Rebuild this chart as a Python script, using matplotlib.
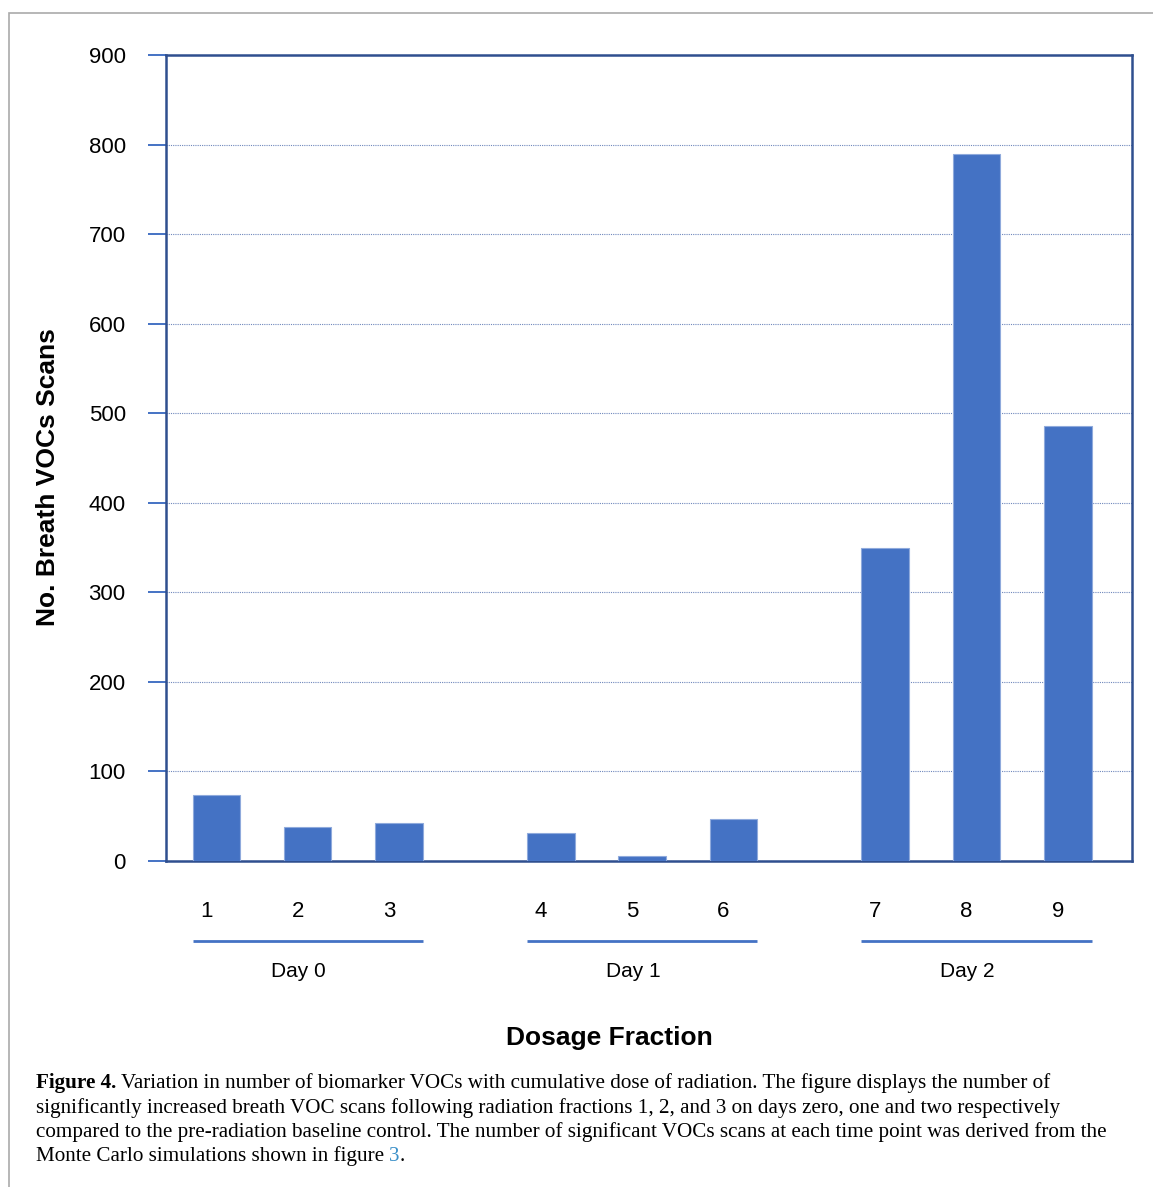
import matplotlib.pyplot as plt
from matplotlib.patches import Rectangle
import matplotlib.transforms as mtransforms

# Data
fractions = ["1", "2", "3", "4", "5", "6", "7", "8", "9"]
days = ["Day 0", "Day 1", "Day 2"]
scans = [74, 38, 42, 31, 6, 47, 350, 790, 486]
y_ticks = [0, 100, 200, 300, 400, 500, 600, 700, 800, 900]

caption_lines = [
    "Variation in number of biomarker VOCs with cumulative dose of radiation. The figure displays the number of",
    "significantly increased breath VOC scans following radiation fractions 1, 2, and 3 on days zero, one and two respectively",
    "compared to the pre-radiation baseline control. The number of significant VOCs scans at each time point was derived from the",
    "Monte Carlo simulations shown in figure ",
]

bar_color = "#4472C4"
spine_color = "#2F4F8F"
sans = ["Liberation Sans", "DejaVu Sans"]
serif = ["Liberation Serif", "DejaVu Serif"]

# bar positions: 3 per day, with a wider gap between days
gap = 0.66
xpos = [i + (i // 3) * gap for i in range(len(scans))]

fig = plt.figure(figsize=(11.53, 11.87), dpi=100)
ax = fig.add_axes([166 / 1153, 1 - 861 / 1187, 966 / 1153, 806 / 1187])

ax.bar(xpos, scans, width=0.52, color=bar_color, edgecolor="#8FAADC", linewidth=0.8, zorder=3)

ax.set_xlim(-0.55, xpos[-1] + 0.7)
ax.set_ylim(0, 900)

ax.set_yticks(y_ticks)
ax.set_yticklabels([str(t) for t in y_ticks], fontsize=16, family=sans)
ax.tick_params(axis="y", length=13, width=1.4, color=bar_color, pad=16)

ax.set_xticks(xpos)
ax.set_xticklabels(fractions, fontsize=16, family=sans)
ax.tick_params(axis="x", length=0, pad=28.5)
shift = mtransforms.ScaledTranslation(-10 / 100, 0, fig.dpi_scale_trans)
for lab in ax.get_xticklabels():
    lab.set_transform(lab.get_transform() + shift)

ax.yaxis.grid(True, linestyle=(0, (1, 1)), linewidth=0.8, color="#6F88BC", zorder=0)
for s in ax.spines.values():
    s.set_color(spine_color)
    s.set_linewidth(1.8)

# day brackets under the fraction numbers
trans = mtransforms.blended_transform_factory(ax.transData, ax.transAxes)
for g, day in enumerate(days):
    x0 = xpos[g * 3] - 0.26
    x1 = xpos[g * 3 + 2] + 0.26
    ax.plot([x0, x1], [-0.0993, -0.0993], transform=trans, color=bar_color,
            linewidth=2, clip_on=False, solid_capstyle="butt")
    ax.text((x0 + x1) / 2 - 0.1, -0.1365, day, transform=trans, ha="center",
            va="center", fontsize=15, family=sans)

ax.text(0.4586, -0.219, "Dosage Fraction", transform=ax.transAxes, ha="center",
        va="center", fontsize=19, fontweight="bold", family=sans)
fig.text(48 / 1153, 1 - 477 / 1187, "No. Breath VOCs Scans", rotation=90,
         ha="center", va="center", fontsize=19, fontweight="bold", family=sans)

# page frame
fig.patches.append(Rectangle((9 / 1153, -0.1), 1.2, 1 - 13 / 1187 + 0.1,
                             transform=fig.transFigure, fill=False,
                             edgecolor="#AAAAAA", linewidth=1.2))

# caption
baselines = [1088, 1113, 1137, 1161]
cap_size = 15.2
head = fig.text(36 / 1153, 1 - baselines[0] / 1187, "Figure 4.", fontsize=cap_size,
                fontweight="bold", family=serif, va="baseline")
fig.canvas.draw()
bb = head.get_window_extent()
fig.text(bb.x1 / 1153 + 5 / 1153, 1 - baselines[0] / 1187, caption_lines[0],
         fontsize=cap_size, family=serif, va="baseline")
for line, yb in zip(caption_lines[1:], baselines[1:]):
    t = fig.text(36 / 1153, 1 - yb / 1187, line, fontsize=cap_size, family=serif,
                 va="baseline")
fig.canvas.draw()
bb = t.get_window_extent()
ref = fig.text(bb.x1 / 1153, 1 - baselines[3] / 1187, "3", fontsize=cap_size,
               family=serif, va="baseline", color="#3A8FC8")
fig.canvas.draw()
bb = ref.get_window_extent()
fig.text(bb.x1 / 1153, 1 - baselines[3] / 1187, ".", fontsize=cap_size,
         family=serif, va="baseline")

fig.savefig("out.png", dpi=100)
